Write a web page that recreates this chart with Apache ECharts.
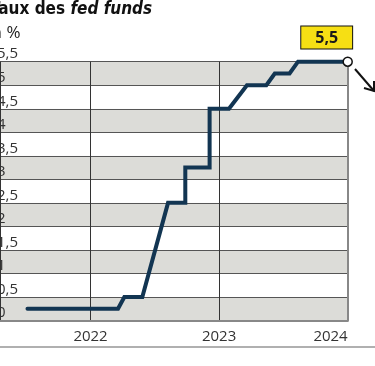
<!DOCTYPE html>
<html>
<head>
<meta charset="utf-8">
<script src="https://cdn.jsdelivr.net/npm/echarts@6/dist/echarts.min.js"></script>
<style>
  html, body { margin: 0; padding: 0; background: #fff; }
  #chart { width: 375px; height: 366px; }
</style>
</head>
<body>
<div id="chart"></div>
<script>
// ---- data ----
const titleMain = 'Taux des ';
const titleItalic = 'fed funds';
const unitLabel = 'en %';
const dates = ['2021-07-06', '2022-03-20', '2022-04-07', '2022-05-28', '2022-08-09', '2022-09-27',
               '2022-09-27', '2022-12-05', '2022-12-05', '2023-01-29', '2023-03-21', '2023-05-15',
               '2023-06-08', '2023-07-20', '2023-08-13', '2024-01-01'];
const rates = [0.25, 0.25, 0.5, 0.5, 2.5, 2.5, 3.25, 3.25, 4.5, 4.5, 5.0, 5.0, 5.25, 5.25, 5.5, 5.5];
const xMin = '2021-04-19';
const xMax = '2024-01-01';
const yMin = 0, yMax = 5.5, yStep = 0.5;

const fmt = v => String(v).replace('.', ',');
const toTime = s => new Date(s + 'T00:00:00').getTime();
const seriesData = dates.map((d, i) => [toTime(d), rates[i]]);
const last = seriesData.length - 1;
seriesData[last] = {
  value: seriesData[last],
  symbol: 'circle',
  symbolSize: 9,
  itemStyle: { color: '#ffffff', borderColor: '#111', borderWidth: 1.5 },
  label: {
    show: true,
    position: 'top',
    distance: 8,
    offset: [-21, 0],
    formatter: p => fmt(p.value[1]),
    backgroundColor: '#f6df14',
    borderColor: '#111',
    borderWidth: 1,
    padding: [3, 14, 2, 14],
    fontFamily: 'Open Sans',
    fontWeight: 'bold',
    fontSize: 16,
    lineHeight: 17,
    color: '#1a1a1a'
  }
};

const chart = echarts.init(document.getElementById('chart'), null, { renderer: 'canvas' });
const font = 'Open Sans';
const titleFont = "'DejaVu Sans Condensed', 'Roboto Condensed', Roboto, sans-serif";
chart.setOption({
  animation: false,
  backgroundColor: '#ffffff',
  title: [{
    text: '{a|' + titleMain + '}{b|' + titleItalic + '}',
    left: -10, top: 1, padding: 0,
    textStyle: {
      rich: {
        a: { fontFamily: titleFont, fontWeight: 'bold', fontSize: 17, color: '#111' },
        b: { fontFamily: titleFont, fontWeight: 'bold', fontStyle: 'italic', fontSize: 17, color: '#111' }
      }
    }
  }, {
    text: unitLabel,
    left: -18, top: 25, padding: 0,
    textStyle: { fontFamily: font, fontWeight: 'normal', fontSize: 17, color: '#222' }
  }],
  grid: { left: 0, right: 27.3, top: 61.7, bottom: 45.5, containLabel: false, outerBoundsMode: 'none' },
  xAxis: {
    type: 'time',
    min: toTime(xMin), max: toTime(xMax),
    splitNumber: 2,
    minInterval: 365 * 24 * 3600 * 1000,
    axisLine: { show: true, lineStyle: { color: '#888', width: 2 } },
    axisTick: { show: false },
    axisLabel: {
      fontFamily: font, fontSize: 15, color: '#333', margin: 9,
      alignMaxLabel: 'right',
      showMaxLabel: true,
      hideOverlap: false,
      formatter: v => String(new Date(v).getFullYear())
    },
    splitLine: { show: true, lineStyle: { color: '#333', width: 1 } }
  },
  yAxis: [{
    type: 'value',
    min: yMin, max: yMax, interval: yStep,
    position: 'left',
    axisLine: { show: false },
    axisTick: { show: false },
    axisLabel: {
      inside: true, margin: -3, align: 'left', verticalAlign: 'bottom',
      padding: [0, 0, 0, 0],
      fontFamily: font, fontSize: 15, color: '#333',
      formatter: fmt
    },
    splitLine: { show: true, lineStyle: { color: '#555', width: 1 } },
    splitArea: { show: true, areaStyle: { color: ['#dcdcd8', '#ffffff'] } }
  }, {
    type: 'value',
    min: yMin, max: yMax, interval: yStep,
    position: 'right',
    axisLine: { show: true, lineStyle: { color: '#888', width: 2 } },
    axisTick: { show: false },
    axisLabel: { show: false },
    splitLine: { show: false }
  }],
  series: [{
    type: 'line',
    data: seriesData,
    symbol: 'none',
    clip: false,
    z: 5,
    lineStyle: { color: '#123552', width: 4, cap: 'round', join: 'miter' }
  }],
  graphic: [{
    type: 'line',
    shape: { x1: 0, y1: 347, x2: 375, y2: 347 },
    style: { stroke: '#b0b0b0', lineWidth: 2 }
  }, {
    type: 'line',
    shape: { x1: 355, y1: 69, x2: 374, y2: 91 },
    style: { stroke: '#111', lineWidth: 2 }
  }, {
    type: 'polyline',
    shape: { points: [[364, 88], [374, 91], [374, 81]] },
    style: { stroke: '#111', lineWidth: 2, fill: null }
  }]
});
</script>
</body>
</html>
